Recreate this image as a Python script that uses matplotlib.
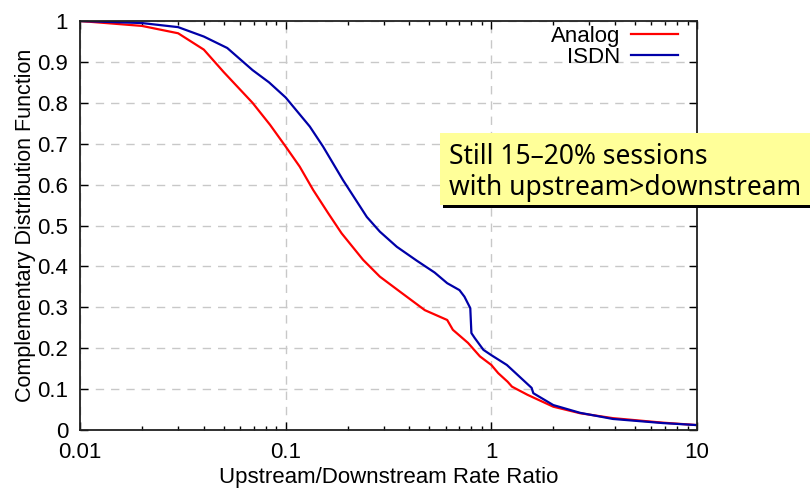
import matplotlib
matplotlib.use("Agg")
import matplotlib.pyplot as plt
from matplotlib.patches import Rectangle
from matplotlib.ticker import FixedLocator, FuncFormatter, LogLocator, NullFormatter

# CCDF of the upstream/downstream rate ratio per access type
analog_ratio = [0.01, 0.02, 0.03, 0.04, 0.05, 0.069, 0.084, 0.1, 0.117, 0.136,
                0.161, 0.187, 0.238, 0.287, 0.36, 0.475, 0.61, 0.65, 0.77, 0.88,
                1.0, 1.08, 1.2, 1.26, 1.5, 2.0, 2.7, 3.9, 6.8, 10.0]
analog_ccdf = [1.0, 0.988, 0.97, 0.93, 0.875, 0.80, 0.746, 0.693, 0.644, 0.587,
               0.53, 0.481, 0.416, 0.375, 0.338, 0.293, 0.269, 0.245, 0.213, 0.18,
               0.159, 0.139, 0.118, 0.106, 0.086, 0.057, 0.041, 0.029, 0.018, 0.012]

isdn_ratio = [0.01, 0.02, 0.03, 0.04, 0.052, 0.069, 0.083, 0.1, 0.131, 0.152,
              0.19, 0.248, 0.287, 0.347, 0.434, 0.53, 0.61, 0.70, 0.74, 0.79,
              0.80, 0.83, 0.915, 1.0, 1.19, 1.57, 1.6, 2.0, 2.7, 3.9, 6.8, 10.0]
isdn_ccdf = [1.0, 0.995, 0.985, 0.962, 0.934, 0.88, 0.85, 0.813, 0.742, 0.693,
             0.611, 0.521, 0.485, 0.448, 0.414, 0.385, 0.359, 0.342, 0.326, 0.298,
             0.237, 0.225, 0.196, 0.183, 0.159, 0.103, 0.09, 0.061, 0.042, 0.027,
             0.017, 0.012]

x_ticks = [0.01, 0.1, 1, 10]
y_ticks = [0, 0.1, 0.2, 0.3, 0.4, 0.5, 0.6, 0.7, 0.8, 0.9, 1]
note_lines = ["Still 15\u201320% sessions", "with upstream>downstream"]

plt.rcParams["font.family"] = ["Liberation Sans", "DejaVu Sans"]

fig = plt.figure(figsize=(8.1, 4.93), dpi=100)
ax = fig.add_axes([80 / 810, 1 - 430 / 493, 617 / 810, 409 / 493])

ax.plot(analog_ratio, analog_ccdf, color="#ff0000", lw=1.6, label="Analog")
ax.plot(isdn_ratio, isdn_ccdf, color="#0000a8", lw=1.6, label="ISDN")

ax.set_xscale("log")
ax.set_xlim(0.01, 10)
ax.set_ylim(0, 1)
ax.xaxis.set_major_locator(FixedLocator(x_ticks))
ax.xaxis.set_major_formatter(FuncFormatter(lambda v, _: "%g" % v))
ax.xaxis.set_minor_locator(LogLocator(base=10, subs=range(2, 10)))
ax.xaxis.set_minor_formatter(NullFormatter())
ax.yaxis.set_major_locator(FixedLocator(y_ticks))
ax.yaxis.set_major_formatter(FuncFormatter(lambda v, _: "%g" % v))

ax.tick_params(which="both", direction="in", top=True, right=True,
               labelsize=16, colors="black", width=1)
ax.tick_params(which="major", length=6)
ax.tick_params(which="minor", length=3)
ax.tick_params(axis="x", which="major", pad=8.5)
ax.tick_params(axis="y", which="major", pad=8.5)
ax.grid(True, which="major", color="#c8c8c8", linestyle=(0, (6, 5)), lw=1)
for sp in ax.spines.values():
    sp.set_linewidth(1.3)
    sp.set_color("#202020")

ax.set_xlabel("Upstream/Downstream Rate Ratio", fontsize=16, labelpad=3)
ax.set_ylabel("Complementary Distribution Function", fontsize=15.5, labelpad=1)

ax.legend(loc="upper right", bbox_to_anchor=(598 / 617, 0.988), frameon=False,
          markerfirst=False, fontsize=16, handlelength=2.1, handletextpad=0.5,
          labelspacing=0.0, borderaxespad=0.0, borderpad=0.0)

# callout box with a drop shadow along its bottom edge
fig.patches.append(Rectangle((443 / 810, 1 - 208 / 493), 400 / 810, 4 / 493,
                             transform=fig.transFigure, facecolor="black",
                             edgecolor="none", zorder=5))
fig.patches.append(Rectangle((440 / 810, 1 - 205 / 493), 400 / 810, 72 / 493,
                             transform=fig.transFigure, facecolor="#ffff99",
                             edgecolor="none", zorder=6))
for i, line in enumerate(note_lines):
    fig.text(449 / 810, 1 - (164 + 31 * i) / 493, line, fontsize=19,
             family=["Noto Sans", "DejaVu Sans"], va="baseline",
             ha="left", zorder=7)

fig.savefig("out.png", dpi=100)
